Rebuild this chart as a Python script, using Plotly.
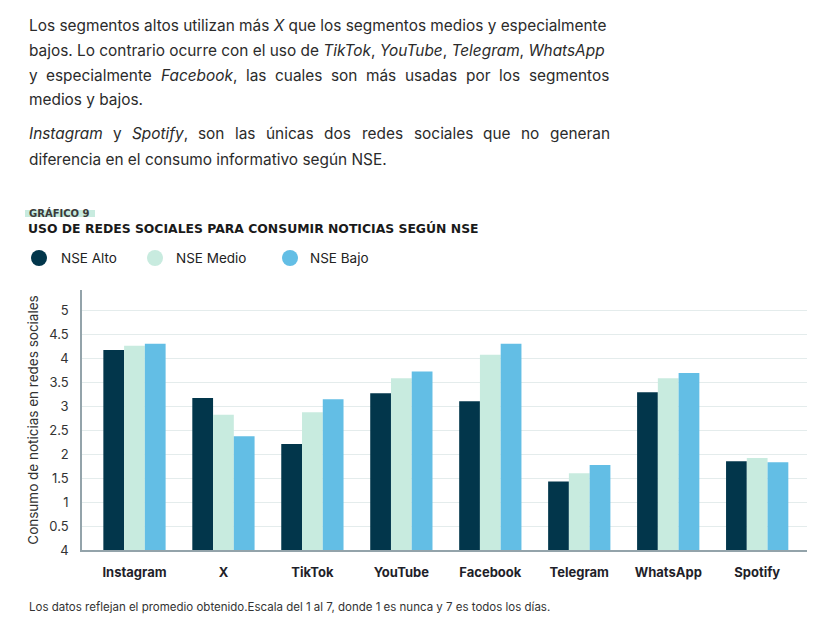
import plotly.graph_objects as go

# ---------------- data ----------------
categories = ["Instagram", "X", "TikTok", "YouTube", "Facebook", "Telegram", "WhatsApp", "Spotify"]
nse_alto = [4.17, 3.17, 2.21, 3.27, 3.10, 1.43, 3.29, 1.85]
nse_medio = [4.26, 2.82, 2.87, 3.58, 4.07, 1.60, 3.58, 1.92]
nse_bajo = [4.30, 2.37, 3.14, 3.72, 4.30, 1.77, 3.69, 1.83]
series_names = ["NSE Alto", "NSE Medio", "NSE Bajo"]
series_colors = ["#02364B", "#C8EBDF", "#63BEE5"]
y_tickvals = [0, 0.5, 1, 1.5, 2, 2.5, 3, 3.5, 4, 4.5, 5]
y_ticktext = ["4", "0.5", "1", "1.5", "2", "2.5", "3", "3.5", "4", "4.5", "5"]

# ---------------- layout geometry (pixels) ----------------
W, H = 837, 630
L, R, T, B = 82, 807, 290, 550  # plot area


def px(x):
    return (x - L) / (R - L)


def py(y):
    return (B - y) / (B - T)


fig = go.Figure()
for name, vals, col in zip(series_names, [nse_alto, nse_medio, nse_bajo], series_colors):
    fig.add_trace(go.Bar(
        x=categories, y=vals, name=name, marker_color=col,
        marker_line_width=0, showlegend=False,
        hovertemplate="%{x}<br>" + name + ": %{y}<extra></extra>",
    ))

annotations = []
shapes = []

TEXT_COLOR = "#2b2b2b"
PFONT = dict(family="Inter", size=15.4, color=TEXT_COLOR)

# approximate relative glyph widths (em) used only to justify paragraph lines
GW = {"a": .55, "b": .60, "c": .55, "d": .60, "e": .57, "f": .36, "g": .60, "h": .58, "i": .24,
      "j": .24, "k": .53, "l": .24, "m": .88, "n": .58, "o": .58, "p": .60, "q": .60, "r": .37,
      "s": .52, "t": .35, "u": .58, "v": .54, "w": .80, "x": .53, "y": .54, "z": .52, "á": .55,
      "ú": .58, ",": .26, ".": .26, " ": .27, "I": .27, "S": .64, "F": .60, "X": .66, "N": .74,
      "E": .60, "L": .56, "T": .62, "Y": .62, "W": .95, "A": .68}


def est(s):
    return sum(GW.get(c, .58) for c in s)


calib_line = "Los segmentos altos utilizan más X que los segmentos medios y especialmente"
SCALE = 580.0 / est(calib_line)
X0, X1 = 27, 608

# paragraph lines (whole lines, left aligned)
whole_lines = [
    (25, "Los segmentos altos utilizan más <i>X</i> que los segmentos medios y especialmente"),
    (50, "bajos. Lo contrario ocurre con el uso de <i>TikTok</i>, <i>YouTube</i>, <i>Telegram</i>, <i>WhatsApp</i>"),
    (99, "medios y bajos."),
    (159, "diferencia en el consumo informativo según NSE."),
]
for y, t in whole_lines:
    annotations.append(dict(text=t, x=px(X0), y=py(y), xref="paper", yref="paper",
                            xanchor="left", yanchor="middle", showarrow=False, font=PFONT))

# justified lines: words placed individually, gaps distributed evenly
line3_words = ["y", "especialmente", "Facebook,", "las", "cuales", "son", "más", "usadas", "por", "los", "segmentos"]
line5_words = ["Instagram", "y", "Spotify,", "son", "las", "únicas", "dos", "redes", "sociales", "que", "no", "generan"]
italic_words = {"Facebook,": "<i>Facebook</i>,", "Instagram": "<i>Instagram</i>", "Spotify,": "<i>Spotify</i>,"}
for y, words in [(75, line3_words), (134, line5_words)]:
    widths = [est(w) * SCALE for w in words]
    gap = (X1 - X0 - sum(widths)) / (len(words) - 1)
    x = X0
    for w, wd in zip(words, widths):
        annotations.append(dict(text=italic_words.get(w, w), x=px(x), y=py(y), xref="paper", yref="paper",
                                xanchor="left", yanchor="middle", showarrow=False, font=PFONT))
        x += wd + gap

# Gráfico label with highlight
shapes.append(dict(type="rect", xref="paper", yref="paper", x0=px(25), x1=px(95),
                   y0=py(217), y1=py(210), fillcolor="#C8EBDF", line_width=0, layer="below"))
annotations.append(dict(text="<b>GRÁFICO 9</b>", x=px(27), y=py(212.5), xref="paper", yref="paper",
                        xanchor="left", yanchor="middle", showarrow=False,
                        font=dict(family="DejaVu Sans", size=10, color="#3a3a3a")))
annotations.append(dict(text="<b>USO DE REDES SOCIALES PARA CONSUMIR NOTICIAS SEGÚN NSE</b>",
                        x=px(26), y=py(228.5), xref="paper", yref="paper",
                        xanchor="left", yanchor="middle", showarrow=False,
                        font=dict(family="DejaVu Sans", size=12.4, color="#1a1a1a")))

# legend (circles + labels)
leg_cx = [39, 155, 290]
leg_tx = [59, 174, 308]
for name, col, cx, tx in zip(series_names, series_colors, leg_cx, leg_tx):
    r = 8
    shapes.append(dict(type="circle", xref="paper", yref="paper",
                       x0=px(cx - r), x1=px(cx + r), y0=py(258 + r), y1=py(258 - r),
                       fillcolor=col, line_width=0))
    annotations.append(dict(text=name, x=px(tx), y=py(258), xref="paper", yref="paper",
                            xanchor="left", yanchor="middle", showarrow=False,
                            font=dict(family="Inter", size=13.5, color="#222222")))

# footnote
annotations.append(dict(text="Los datos reflejan el promedio obtenido.Escala del 1 al 7, donde 1 es nunca y 7 es todos los días.",
                        x=px(27), y=py(607), xref="paper", yref="paper",
                        xanchor="left", yanchor="middle", showarrow=False,
                        font=dict(family="Inter", size=11.5, color="#333333")))

fig.update_layout(
    width=W, height=H,
    margin=dict(l=L, r=W - R, t=T, b=H - B, pad=0),
    paper_bgcolor="white", plot_bgcolor="white",
    barmode="group", bargap=0.3, bargroupgap=0,
    showlegend=False,
    annotations=annotations, shapes=shapes,
    font=dict(family="Inter", color="#222222"),
)
fig.update_xaxes(
    type="category", range=[-0.59, 7.56],
    showline=True, linecolor="#93A3AA", linewidth=1.5,
    showgrid=False, ticks="", ticklabelstandoff=10,
    tickfont=dict(family="Inter", size=13, color="#1f1f2a", weight=700),
)
fig.update_yaxes(
    range=[0, 5.42], tickvals=y_tickvals, ticktext=y_ticktext,
    showline=True, linecolor="#93A3AA", linewidth=1.5,
    showgrid=True, gridcolor="#E4ECEC", gridwidth=1,
    zeroline=False, ticks="", ticklabelstandoff=9,
    tickfont=dict(family="Inter", size=13, color="#333333"),
    title=dict(text="Consumo de noticias en redes sociales", standoff=7,
               font=dict(family="Inter", size=13.5, color="#333333")),
)

fig.write_html("out.html")
